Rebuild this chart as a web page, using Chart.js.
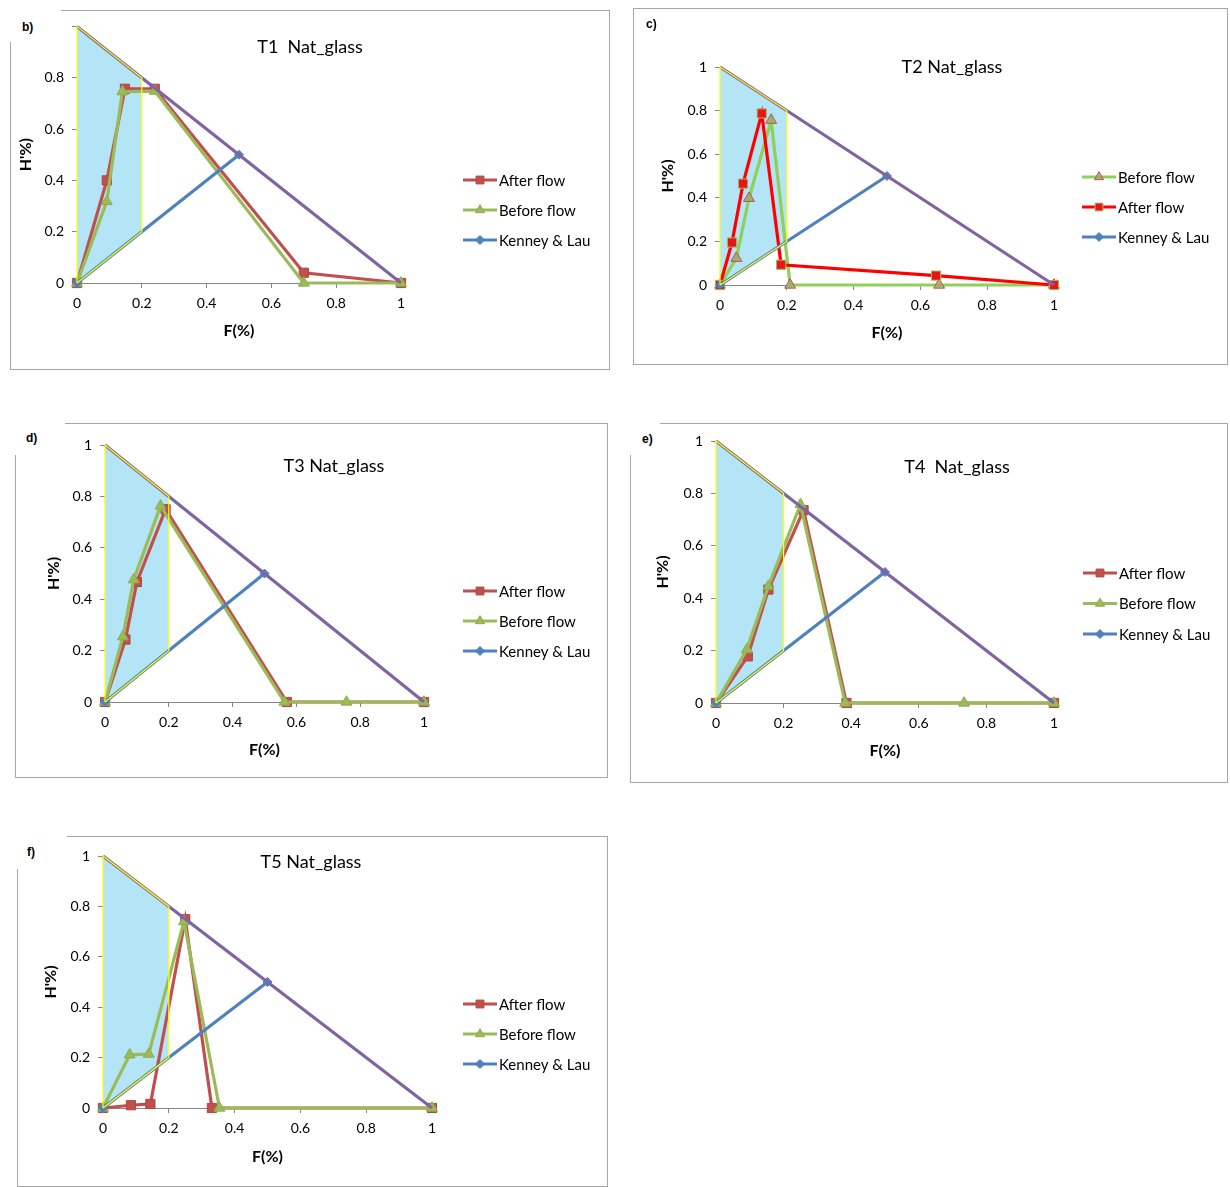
<!DOCTYPE html>
<html>
<head>
<meta charset="utf-8">
<script src="https://cdn.jsdelivr.net/npm/chart.js@4.4.1/dist/chart.umd.min.js"></script>
<style>
  body { margin: 0; background: #fff; }
  #page { position: relative; width: 1230px; height: 1187px; overflow: hidden; background: #fff; }
  .panel { position: absolute; }
  .panel canvas { position: absolute; left: 0; top: 0; }
  .frame { position: absolute; left: 0; top: 0; right: 0; bottom: 0; border: 1px solid #a6a6a6; pointer-events: none; }
  .cover { position: absolute; background: #fff; }
  .tag { position: absolute; font: bold 12px "Liberation Sans", Arial, sans-serif; color: #000; transform: translateY(-50%); }
</style>
</head>
<body>
<div id="page"></div>
<script>
// ---- data: F (x) and H' (y) per series ----
const ZONE_F = [0, 0, 0.2, 0.2, 0];
const ZONE_H = [0, 1, 0.8, 0.2, 0];
const LIMIT_F = [0, 1];
const LIMIT_H = [1, 0];
const KL_F = [0, 0.5];
const KL_H = [0, 0.5];

const T1_AFTER_F  = [0, 0.092, 0.148, 0.24, 0.70, 1];
const T1_AFTER_H  = [0, 0.40, 0.757, 0.757, 0.04, 0];
const T1_BEFORE_F = [0, 0.092, 0.14, 0.24, 0.70, 1];
const T1_BEFORE_H = [0, 0.318, 0.746, 0.748, 0, 0];

const T2_BEFORE_F = [0, 0.049, 0.087, 0.153, 0.21, 0.656, 1];
const T2_BEFORE_H = [0, 0.123, 0.398, 0.756, 0, 0, 0];
const T2_AFTER_F  = [0, 0.036, 0.069, 0.125, 0.183, 0.647, 1];
const T2_AFTER_H  = [0, 0.195, 0.465, 0.787, 0.093, 0.043, 0];

const T3_AFTER_F  = [0, 0.064, 0.10, 0.19, 0.57, 1];
const T3_AFTER_H  = [0, 0.243, 0.467, 0.75, 0, 0];
const T3_BEFORE_F = [0, 0.056, 0.09, 0.174, 0.5625, 0.757, 1];
const T3_BEFORE_H = [0, 0.254, 0.476, 0.763, 0, 0, 0];

const T4_AFTER_F  = [0, 0.094, 0.155, 0.259, 0.386, 1];
const T4_AFTER_H  = [0, 0.178, 0.433, 0.736, 0, 0];
const T4_BEFORE_F = [0, 0.091, 0.155, 0.25, 0.382, 0.734, 1];
const T4_BEFORE_H = [0, 0.204, 0.446, 0.758, 0, 0, 0];

const T5_AFTER_F  = [0, 0.085, 0.144, 0.25, 0.331, 1];
const T5_AFTER_H  = [0, 0.011, 0.016, 0.749, 0, 0];
const T5_BEFORE_F = [0, 0.081, 0.139, 0.246, 0.354, 1];
const T5_BEFORE_H = [0, 0.211, 0.214, 0.74, 0, 0];

const TICKS = [0, 0.2, 0.4, 0.6, 0.8, 1];

const FONT = 'Lato, "Liberation Sans", Arial, sans-serif';

function pts(fs, hs) {
    return fs.map((f, i) => ({x: f, y: hs[i]}));
}

// series styles
const styleAfter  = {line: '#C0504D', fill: '#C0504D', edge: '#B0463F', shape: 'rect', r: 6.5};
const styleBefore = {line: '#9BBB59', fill: '#9BBB59', edge: '#8DAE4B', shape: 'triangle', r: 6.3};
const styleAfter2  = {line: '#FF0000', fill: '#E8141A', edge: '#9BBB59', shape: 'rect', r: 6.5};
const styleBefore2 = {line: '#8FD05A', fill: 'rgba(150,175,110,0.85)', edge: '#C0504D', shape: 'triangle', r: 6.3};

// panel layout (absolute px on the page)
const panels = [
    {tag: 'b)', tagPos: [22, 27], title: 'T1  Nat_glass', titlePos: [310, 47],
     box: [10, 10, 610, 370], plot: [77, 23, 401, 283], cover: [0, 0, 61, 42],
     fTitleY: 331, hTitleX: 25, legend: [463, 180, 30], hideTop: true,
     series: [
        {label: 'After flow', f: T1_AFTER_F, h: T1_AFTER_H, st: styleAfter},
        {label: 'Before flow', f: T1_BEFORE_F, h: T1_BEFORE_H, st: styleBefore}]},
    {tag: 'c)', tagPos: [646, 24], title: 'T2 Nat_glass', titlePos: [952, 67],
     box: [633, 8, 1228, 365], plot: [720, 67, 1054, 285], cover: null,
     fTitleY: 333, hTitleX: 667, legend: [1082, 177, 30],
     series: [
        {label: 'Before flow', f: T2_BEFORE_F, h: T2_BEFORE_H, st: styleBefore2},
        {label: 'After flow', f: T2_AFTER_F, h: T2_AFTER_H, st: styleAfter2}]},
    {tag: 'd)', tagPos: [26, 438], title: 'T3 Nat_glass', titlePos: [334, 466],
     box: [15, 423, 608, 778], plot: [105, 445, 424, 702], cover: [14, 422, 65, 455],
     fTitleY: 750, hTitleX: 53, legend: [463, 591, 30],
     series: [
        {label: 'After flow', f: T3_AFTER_F, h: T3_AFTER_H, st: styleAfter},
        {label: 'Before flow', f: T3_BEFORE_F, h: T3_BEFORE_H, st: styleBefore}]},
    {tag: 'e)', tagPos: [642, 439], title: 'T4  Nat_glass', titlePos: [957, 467],
     box: [630, 423, 1228, 783], plot: [716, 441, 1054, 703], cover: [629, 422, 660, 455],
     fTitleY: 751, hTitleX: 662, legend: [1083, 573, 30.5],
     series: [
        {label: 'After flow', f: T4_AFTER_F, h: T4_AFTER_H, st: styleAfter},
        {label: 'Before flow', f: T4_BEFORE_F, h: T4_BEFORE_H, st: styleBefore}]},
    {tag: 'f)', tagPos: [27, 852], title: 'T5 Nat_glass', titlePos: [311, 862],
     box: [17, 836, 608, 1187], plot: [103, 856, 432, 1108], cover: [16, 835, 67, 869],
     fTitleY: 1157, hTitleX: 50, legend: [463, 1004, 30],
     series: [
        {label: 'After flow', f: T5_AFTER_F, h: T5_AFTER_H, st: styleAfter},
        {label: 'Before flow', f: T5_BEFORE_F, h: T5_BEFORE_H, st: styleBefore}]}
];

function drawMarker(ctx, shape, r, x, y) {
    if (Chart.helpers && Chart.helpers.drawPoint) {
        Chart.helpers.drawPoint(ctx, {pointStyle: shape, radius: r, rotation: 0, borderWidth: ctx.lineWidth}, x, y);
        return;
    }
    ctx.beginPath();
    ctx.arc(x, y, r, 0, Math.PI * 2);
    ctx.fill();
    ctx.stroke();
}

// title + legend, drawn on the canvas of each panel
const panelDecor = {
    id: 'panelDecor',
    afterDraw(chart, args, opts) {
        const ctx = chart.ctx;
        ctx.save();
        ctx.fillStyle = '#000';
        ctx.textBaseline = 'middle';
        ctx.textAlign = 'center';
        ctx.font = '18px ' + FONT;
        ctx.fillText(opts.title, opts.titleX, opts.titleY);

        ctx.font = '15px ' + FONT;
        ctx.textAlign = 'left';
        opts.items.forEach((idx, i) => {
            const ds = chart.data.datasets[idx];
            const y = opts.y + i * opts.gap;
            ctx.strokeStyle = ds.borderColor;
            ctx.lineWidth = 3;
            ctx.beginPath();
            ctx.moveTo(opts.x, y);
            ctx.lineTo(opts.x + 34, y);
            ctx.stroke();
            ctx.fillStyle = ds.pointBackgroundColor;
            ctx.strokeStyle = ds.pointBorderColor;
            ctx.lineWidth = ds.pointBorderWidth;
            const r = ds.label === 'Kenney & Lau' ? 4.5 : ds.pointRadius * 0.85;
            drawMarker(ctx, ds.pointStyle, r, opts.x + 17, y);
            ctx.fillStyle = '#000';
            ctx.fillText(ds.label, opts.x + 36, y + 1);
        });
        ctx.restore();
    }
};

function makeChart(p) {
    const [bl, bt, br, bb] = p.box;
    const [pl, pt, pr, pb] = p.plot;
    const wrap = document.createElement('div');
    wrap.className = 'panel';
    wrap.style.left = bl + 'px';
    wrap.style.top = bt + 'px';
    wrap.style.width = (br - bl) + 'px';
    wrap.style.height = (bb - bt) + 'px';
    const canvas = document.createElement('canvas');
    canvas.width = br - bl;
    canvas.height = bb - bt;
    wrap.appendChild(canvas);
    const frame = document.createElement('div');
    frame.className = 'frame';
    wrap.appendChild(frame);
    document.getElementById('page').appendChild(wrap);

    if (p.cover) {
        const c = document.createElement('div');
        c.className = 'cover';
        c.style.left = p.cover[0] + 'px';
        c.style.top = p.cover[1] + 'px';
        c.style.width = (p.cover[2] - p.cover[0]) + 'px';
        c.style.height = (p.cover[3] - p.cover[1]) + 'px';
        document.getElementById('page').appendChild(c);
    }
    const tag = document.createElement('div');
    tag.className = 'tag';
    tag.textContent = p.tag;
    tag.style.left = p.tagPos[0] + 'px';
    tag.style.top = p.tagPos[1] + 'px';
    document.getElementById('page').appendChild(tag);

    const datasets = [];
    // yellow outline of the zone, on top
    datasets.push({label: 'zone outline', data: pts(ZONE_F, ZONE_H), showLine: true, borderColor: '#FFFF00',
        borderWidth: 1.2, pointRadius: 0, fill: false, order: 0, clip: false});
    datasets.push({label: 'limit', data: pts(LIMIT_F, LIMIT_H), showLine: true, borderColor: '#8064A2',
        borderWidth: 3.2, pointRadius: 0, order: 1, clip: false});
    datasets.push({label: 'Kenney & Lau', data: pts(KL_F, KL_H), showLine: true, borderColor: '#4F81BD',
        borderWidth: 3.2, pointRadius: 4.5, pointStyle: 'rectRot', pointBackgroundColor: '#4F81BD',
        pointBorderColor: '#4F81BD', pointBorderWidth: 1, order: 2, clip: false});
    const legendItems = [];
    p.series.forEach((s, i) => {
        legendItems.push(datasets.length);
        datasets.push({label: s.label, data: pts(s.f, s.h), showLine: true, borderColor: s.st.line,
            borderWidth: 3.2, pointRadius: s.st.r, pointStyle: s.st.shape,
            pointBackgroundColor: s.st.fill, pointBorderColor: s.st.edge, pointBorderWidth: 1,
            order: 4 - i, clip: false});
    });
    legendItems.push(2);
    // light blue zone fill, at the bottom
    datasets.push({label: 'zone', data: pts(ZONE_F, ZONE_H), showLine: true, borderWidth: 0,
        borderColor: 'rgba(0,0,0,0)', backgroundColor: '#B3E5F7', fill: 'shape', pointRadius: 0, order: 10});

    const lh = 18;
    return new Chart(canvas, {
        type: 'scatter',
        data: {datasets: datasets},
        options: {
            responsive: false,
            animation: false,
            layout: {padding: {left: 0, top: pt - bt, right: br - pr, bottom: 0}},
            plugins: {
                legend: {display: false},
                tooltip: {enabled: false},
                panelDecor: {
                    title: p.title, titleX: p.titlePos[0] - bl, titleY: p.titlePos[1] - bt,
                    x: p.legend[0] - bl, y: p.legend[1] - bt, gap: p.legend[2], items: legendItems
                }
            },
            scales: {
                x: {
                    type: 'linear', min: 0, max: 1,
                    afterBuildTicks: s => { s.ticks = TICKS.map(v => ({value: v})); },
                    afterFit: s => { s.height = bb - pb; },
                    ticks: {color: '#000', font: {family: FONT, size: 14}, padding: 7, maxRotation: 0,
                        callback: v => String(+v.toFixed(1))},
                    grid: {drawOnChartArea: false, tickLength: 5, color: '#868686'},
                    border: {color: '#868686', width: 1},
                    title: {display: true, text: 'F(%)', color: '#000',
                        font: {family: FONT, size: 16, weight: 'bold'},
                        padding: {top: 0, bottom: bb - p.fTitleY - lh / 2}}
                },
                y: {
                    type: 'linear', min: 0, max: 1,
                    afterBuildTicks: s => { s.ticks = TICKS.map(v => ({value: v})); },
                    afterFit: s => { s.width = pl - bl; },
                    ticks: {color: '#000', font: {family: FONT, size: 14}, padding: 8,
                        callback: v => (p.hideTop && v === 1) ? '' : String(+v.toFixed(1))},
                    grid: {drawOnChartArea: false, tickLength: 5, color: '#868686'},
                    border: {color: '#868686', width: 1},
                    title: {display: true, text: "H'%)", color: '#000',
                        font: {family: FONT, size: 16, weight: 'bold'},
                        padding: {top: p.hTitleX - bl - lh / 2, bottom: 0}}
                }
            }
        },
        plugins: [panelDecor]
    });
}

const charts = panels.map(makeChart);
</script>
</body>
</html>
